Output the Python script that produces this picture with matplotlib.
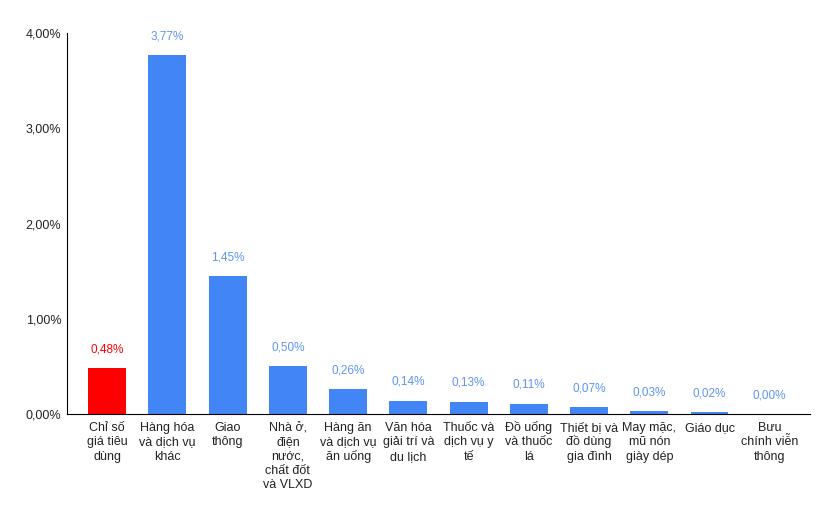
import matplotlib.pyplot as plt

categories = [
    "Chỉ số\ngiá tiêu\ndùng",
    "Hàng hóa\nvà dịch vụ\nkhác",
    "Giao\nthông",
    "Nhà ở,\nđiện\nnước,\nchất đốt\nvà VLXD",
    "Hàng ăn\nvà dịch vụ\năn uống",
    "Văn hóa\ngiải trí và\ndu lịch",
    "Thuốc và\ndịch vụ y\ntế",
    "Đồ uống\nvà thuốc\nlá",
    "Thiết bị và\nđồ dùng\ngia đình",
    "May mặc,\nmũ nón\ngiày dép",
    "Giáo dục",
    "Bưu\nchính viễn\nthông",
]
values = [0.48, 3.77, 1.45, 0.50, 0.26, 0.14, 0.13, 0.11, 0.07, 0.03, 0.02, 0.00]
yticks = [0, 1, 2, 3, 4]


def fmt(v):
    return f"{v:.2f}".replace(".", ",") + "%"


def main():
    plt.rcParams['font.family'] = ['Liberation Sans', 'DejaVu Sans']
    fig = plt.figure(figsize=(8.36, 5.17), dpi=100)
    ax = fig.add_axes([0.080, 0.199, 0.889, 0.737])

    colors = ['#ff0000'] + ['#4285f4'] * (len(values) - 1)
    label_colors = ['#ff0000'] + ['#5e95f2'] * (len(values) - 1)
    x = list(range(len(values)))
    ax.bar(x, values, width=0.63, color=colors)
    for xi, v, c in zip(x, values, label_colors):
        ax.annotate(fmt(v), (xi, v), xytext=(0, 11.5), textcoords='offset points',
                    ha='center', va='baseline', fontsize=8.5, color=c)

    # category labels, one line at a time so the line pitch stays even
    for xi, cat in zip(x, categories):
        for j, line in enumerate(cat.split("\n")):
            ax.annotate(line, (xi, 0), xycoords=('data', 'axes fraction'),
                        xytext=(0, -12.2 - j * 10.3), textcoords='offset points',
                        ha='center', va='baseline', fontsize=9, color='#222222')

    ax.set_xlim(-0.67, len(values) - 0.33)
    ax.set_ylim(0, 4)
    ax.set_yticks(yticks)
    ax.set_yticklabels([fmt(t) for t in yticks], fontsize=9, color='#222222')
    ax.set_xticks([])
    ax.tick_params(axis='y', length=0, pad=4)
    for s in ['top', 'right']:
        ax.spines[s].set_visible(False)
    ax.spines['left'].set_color('black')
    ax.spines['bottom'].set_color('black')

    fig.savefig("out.png", dpi=100)


if __name__ == "__main__":
    main()
